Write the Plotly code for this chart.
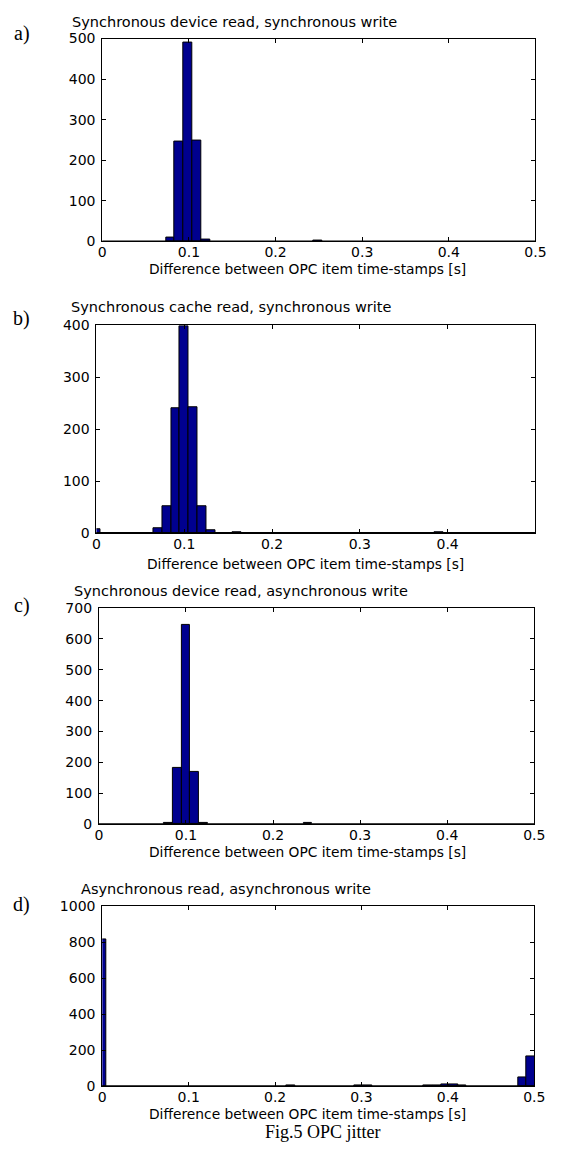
import plotly.graph_objects as go

W, H = 563, 1160

# ---- data ----
a_x = [0.0785, 0.0888, 0.0991, 0.1094, 0.1197, 0.2489]
a_y = [10, 247, 491, 249, 5, 1]
b_x = [0.0, 0.07, 0.08, 0.09, 0.10, 0.11, 0.12, 0.13, 0.16, 0.39]
b_y = [8, 9, 52, 240, 398, 242, 52, 6, 2, 2]
c_x = [0.08, 0.09, 0.10, 0.11, 0.12, 0.24]
c_y = [6, 184, 645, 171, 6, 4]
d_x = [0.0, 0.218, 0.297, 0.307, 0.377, 0.387, 0.397, 0.407, 0.416, 0.486, 0.496]
d_y = [817, 2, 2, 2, 4, 5, 9, 9, 4, 51, 164]

titles = ["Synchronous device read, synchronous write",
          "Synchronous cache read, synchronous write",
          "Synchronous device read, asynchronous write",
          "Asynchronous read, asynchronous write"]
panel_labels = ["a)", "b)", "c)", "d)"]
xlabel = "Difference between OPC item time-stamps [s]"
caption = "Fig.5 OPC jitter"
x_ticks = [0, 0.1, 0.2, 0.3, 0.4, 0.5]
y_ticks = [[0, 100, 200, 300, 400, 500],
           [0, 100, 200, 300, 400],
           [0, 100, 200, 300, 400, 500, 600, 700],
           [0, 200, 400, 600, 800, 1000]]
y_max = [500, 400, 700, 1000]
x_max = [0.5, 0.4995, 0.5, 0.5]
widths = [0.0103, 0.01, 0.01, 0.0099]

# ---- layout geometry (pixels) ----
boxes = [  # left, right, top, bottom
    (101, 546, 31, 236.7),
    (95, 545.5, 321.7, 532.3),
    (97.5, 544.8, 608.3, 827.7),
    (101, 544.8, 911, 1093.3),
]
title_pos = [(68, 14.5), (67, 302.7), (70, 590.7), (77, 893.3)]
label_pos = [(18.5, 26), (18, 315), (18, 606), (18, 909)]
xtitle_pos = [(312, 265), (310, 564), (312, 855.5), (312, 1121)]

px = lambda v: v / W
py = lambda v: 1 - v / H

BAR = "#00008F"
SANS = "DejaVu Sans, Verdana, sans-serif"
SERIF = "Liberation Serif, Times New Roman, serif"

fig = go.Figure()
data = [(a_x, a_y), (b_x, b_y), (c_x, c_y), (d_x, d_y)]
annotations = []
shapes = []
layout = {}
for i, (xs, ys) in enumerate(data):
    n = "" if i == 0 else str(i + 1)
    fig.add_trace(go.Bar(
        x=xs, y=ys, width=[widths[i]] * len(xs),
        marker=dict(color=BAR, line=dict(color="black", width=1)),
        xaxis="x" + n, yaxis="y" + n, showlegend=False,
    ))
    l, r, t, b = boxes[i]
    common = dict(showline=True, linecolor="black", linewidth=1, mirror="ticks",
                  ticks="inside", ticklen=4, tickcolor="black", tickwidth=1,
                  showgrid=False, zeroline=False,
                  tickfont=dict(family=SANS, size=14, color="black"))
    layout["xaxis" + n] = dict(domain=[px(l), px(r)], range=[0, x_max[i]],
                               tickvals=x_ticks, ticktext=[("%g" % v) for v in x_ticks],
                               anchor="y" + n, ticklabelstandoff=-2, **common)
    layout["yaxis" + n] = dict(domain=[py(b), py(t)], range=[0, y_max[i]],
                               tickvals=y_ticks[i], anchor="x" + n,
                               ticklabelstandoff=3, **common)
    shapes.append(dict(type="line", xref="x%s domain" % n, yref="y" + n,
                       x0=0, x1=1, y0=0, y1=0, line=dict(color="black", width=2)))
    annotations.append(dict(text=titles[i], x=px(title_pos[i][0]), y=py(title_pos[i][1]),
                            xref="paper", yref="paper", xanchor="left", yanchor="middle",
                            showarrow=False, font=dict(family=SANS, size=14.5, color="black")))
    annotations.append(dict(text=panel_labels[i], x=px(label_pos[i][0]), y=py(label_pos[i][1]),
                            xref="paper", yref="paper", xanchor="center", yanchor="middle",
                            showarrow=False, font=dict(family=SERIF, size=20, color="black")))
    annotations.append(dict(text=xlabel, x=px(xtitle_pos[i][0]), y=py(xtitle_pos[i][1]),
                            xref="paper", yref="paper", xanchor="center", yanchor="middle",
                            showarrow=False, font=dict(family=SANS, size=13.8, color="black")))

annotations.append(dict(text=caption, x=px(328), y=py(1140), xref="paper", yref="paper",
                        xanchor="center", yanchor="middle", showarrow=False,
                        font=dict(family=SERIF, size=18, color="black")))

fig.update_layout(width=W, height=H, margin=dict(l=0, r=0, t=0, b=0),
                  paper_bgcolor="white", plot_bgcolor="white", bargap=0,
                  annotations=annotations, shapes=shapes, **layout)
fig.write_html("out.html", config={"displayModeBar": False},
               post_script="document.body.style.margin='0px';document.body.style.overflow='hidden';")
